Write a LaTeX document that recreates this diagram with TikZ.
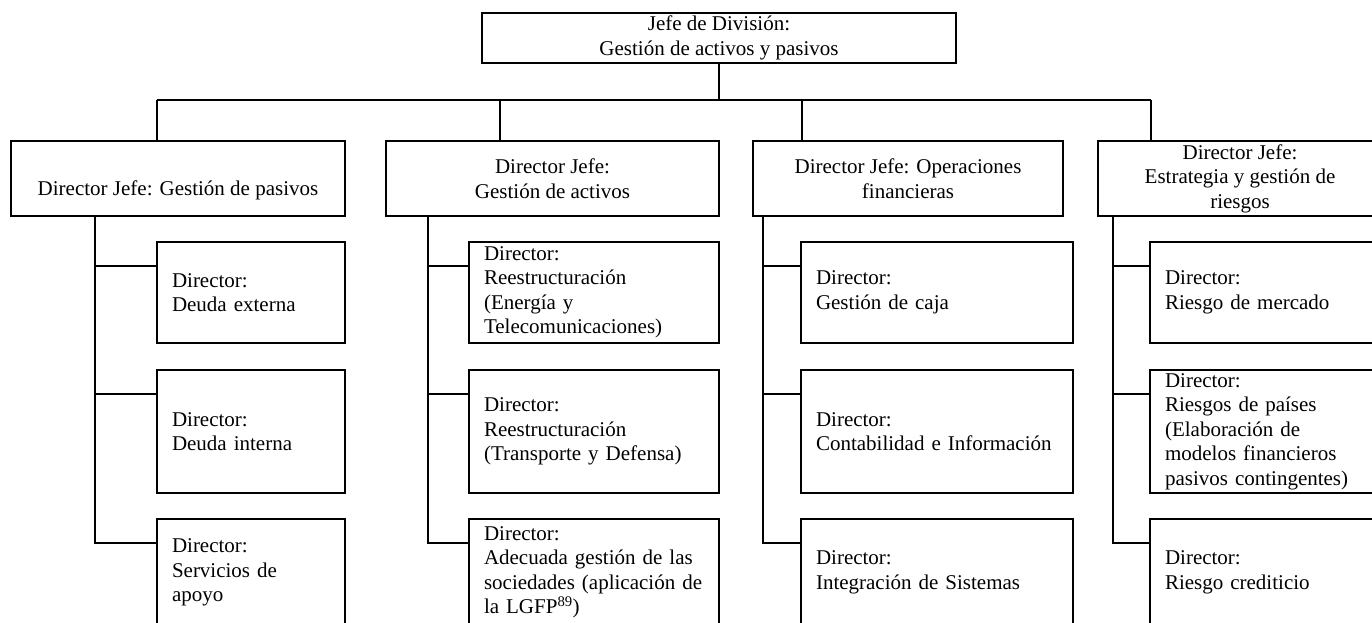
\documentclass[tikz,border=0pt]{standalone}
\usepackage{fontspec}
\setmainfont{Liberation Serif}
\usepackage{tikz}

\tikzset{
  org/.style={draw, line width=2pt, inner sep=0pt, font=\fontsize{21}{24.5}\selectfont},
  chief/.style={org, align=center, minimum height=75pt},
  dirbox/.style={org, align=left, inner xsep=15pt},
}

\begin{document}
\begin{tikzpicture}[x=1pt, y=-1pt, line width=2pt]
\useasboundingbox (0,0) rectangle (1372,622);
\clip (0,0) rectangle (1372,622);

\draw (719,38) node[org, align=center, minimum width=474pt, minimum height=50pt] (top) {Jefe de División:\\Gestión de activos y pasivos};

\draw (178,178.5) node[chief, minimum width=334pt, text height=38pt, text depth=5pt] (jp1) {Director Jefe: Gestión de pasivos};
\draw (552.5,178.5) node[chief, minimum width=333pt] (jp2) {Director Jefe:\\Gestión de activos};
\draw (908,178.5) node[chief, minimum width=310pt] (jp3) {Director Jefe: Operaciones\\financieras};
\draw (1240,178.5) node[chief, minimum width=284pt] (jp4) {Director Jefe:\\Estrategia y gestión de\\riesgos};

\draw (251,292.5) node[dirbox, text width=158pt, minimum height=101pt] (c11) {Director:\\Deuda externa};
\draw (251,431.5) node[dirbox, text width=158pt, minimum height=123pt] (c12) {Director:\\Deuda interna};
\draw (251,572.5) node[dirbox, text width=158pt, minimum height=107pt] (c13) {Director:\\Servicios de\\apoyo};

\draw (594,292.5) node[dirbox, text width=220pt, minimum height=101pt] (c21) {Director:\\Reestructuración\\(Energía y\\Telecomunicaciones)};
\draw (594,431.5) node[dirbox, text width=220pt, minimum height=123pt] (c22) {Director:\\Reestructuración\\(Transporte y Defensa)};
\draw (594,572.5) node[dirbox, text width=220pt, minimum height=107pt] (c23) {Director:\\Adecuada gestión de las\\sociedades (aplicación de\\la LGFP\textsuperscript{89})};

\draw (937,292.5) node[dirbox, text width=242pt, minimum height=101pt] (c31) {Director:\\Gestión de caja};
\draw (937,431.5) node[dirbox, text width=242pt, minimum height=123pt] (c32) {Director:\\Contabilidad e Información};
\draw (937,572.5) node[dirbox, text width=242pt, minimum height=107pt] (c33) {Director:\\Integración de Sistemas};

\draw (1275,292.5) node[dirbox, text width=220pt, minimum height=101pt] (c41) {Director:\\Riesgo de mercado};
\draw (1275,431.5) node[dirbox, text width=220pt, minimum height=123pt] (c42) {Director:\\Riesgos de países\\(Elaboración de\\modelos financieros\\pasivos contingentes)};
\draw (1275,572.5) node[dirbox, text width=220pt, minimum height=107pt] (c43) {Director:\\Riesgo crediticio};

\coordinate (bus) at (719,100);
\coordinate (d1) at (157,0);
\coordinate (d2) at (500,0);
\coordinate (d3) at (802,0);
\coordinate (d4) at (1151,0);
\coordinate (s1) at (95,0);
\coordinate (s2) at (428,0);
\coordinate (s3) at (763,0);
\coordinate (s4) at (1113,0);

\draw
     (top.south) -- (bus)
     (d1 |- bus) -- (d4 |- bus)

     (d1 |- bus) -- (d1 |- jp1.north)
     (d2 |- bus) -- (d2 |- jp2.north)
     (d3 |- bus) -- (d3 |- jp3.north)
     (d4 |- bus) -- (d4 |- jp4.north)

     (s1 |- jp1.south) |- ([yshift=-25pt]c11.north west)
     (s1 |- jp1.south) |- ([yshift=-25pt]c12.north west)
     (s1 |- jp1.south) |- ([yshift=-25pt]c13.north west)

     (s2 |- jp2.south) |- ([yshift=-25pt]c21.north west)
     (s2 |- jp2.south) |- ([yshift=-25pt]c22.north west)
     (s2 |- jp2.south) |- ([yshift=-25pt]c23.north west)

     (s3 |- jp3.south) |- ([yshift=-25pt]c31.north west)
     (s3 |- jp3.south) |- ([yshift=-25pt]c32.north west)
     (s3 |- jp3.south) |- ([yshift=-25pt]c33.north west)

     (s4 |- jp4.south) |- ([yshift=-25pt]c41.north west)
     (s4 |- jp4.south) |- ([yshift=-25pt]c42.north west)
     (s4 |- jp4.south) |- ([yshift=-25pt]c43.north west) ;
\end{tikzpicture}
\end{document}
